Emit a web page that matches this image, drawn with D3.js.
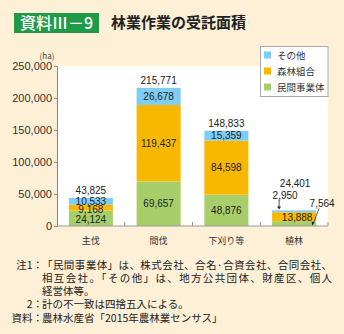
<!DOCTYPE html>
<html><head><meta charset="utf-8">
<script src="https://cdn.jsdelivr.net/npm/d3@7"></script>
<style>
html,body{margin:0;padding:0;background:#fdf0d6;}
svg{display:block;font-family:"Noto Sans CJK JP","Noto Sans",sans-serif;}
</style></head>
<body>
<svg id="c" width="344" height="334"></svg>
<script>
const categories = ["主伐", "間伐", "下刈り等", "植林"];
const seriesNames = ["民間事業体", "森林組合", "その他"];
const privateVals = [24124, 69657, 48876, 7564];
const coopVals = [9168, 119437, 84598, 13888];
const otherVals = [10533, 26678, 15359, 2950];
const totals = [43825, 215771, 148833, 24401];
const yTicks = [0, 50000, 100000, 150000, 200000, 250000];
const colors = ["#a6cf6a", "#f9b800", "#7fcdf2"];
const notes = [
  ["注1：", "「民間事業体」は、株式会社、合名·合資会社、合同会社、"],
  ["", "相互会社。「その他」は、地方公共団体、財産区、個人"],
  ["", "経営体等。"],
  ["2：", "計の不一致は四捨五入による。"],
  ["資料：", "農林水産省「2015年農林業センサス」"]
];

(function () {
const svg = d3.select("#c");
const fmt = d3.format(",");

// Title
svg.append("rect").attr("x", 14).attr("y", 13).attr("width", 85).attr("height", 20).attr("fill", "#1f9a49");
svg.append("text").attr("x", 56.5).attr("y", 28.5).attr("text-anchor", "middle")
  .attr("fill", "#fff").attr("font-size", 16).attr("font-weight", 500).text("資料Ⅲ－9");
svg.append("text").attr("x", 111).attr("y", 28).attr("fill", "#222")
  .attr("font-size", 15).attr("font-weight", 700).text("林業作業の受託面積");

const pL = 57, pR = 328, pT = 66, pB = 226;
svg.append("rect").attr("x", pL).attr("y", pT).attr("width", pR - pL).attr("height", pB - pT).attr("fill", "#fff");

const x = d3.scaleBand().domain(categories).range([pL, pR]).paddingInner(0.35).paddingOuter(0.175);
const y = d3.scaleLinear().domain([0, 250000]).range([pB, pT]);

const stackData = categories.map((c, i) => ({cat: c, "民間事業体": privateVals[i], "森林組合": coopVals[i], "その他": otherVals[i]}));
const stack = d3.stack().keys(seriesNames)(stackData);

const g = svg.append("g");
stack.forEach((s, si) => {
  g.selectAll(null).data(s).enter().append("rect")
    .attr("x", d => x(d.data.cat)).attr("width", x.bandwidth())
    .attr("y", d => y(d[1])).attr("height", d => y(d[0]) - y(d[1]))
    .attr("fill", colors[si]);
});

// axes
const yAxis = svg.append("g").attr("transform", `translate(${pL},0)`)
  .call(d3.axisLeft(y).tickValues(yTicks).tickFormat(fmt).tickSize(3).tickPadding(2));
yAxis.select(".domain").attr("stroke", "#888");
yAxis.selectAll(".tick line").attr("stroke", "#888");
yAxis.selectAll("text").attr("font-size", 11).attr("fill", "#333").attr("font-family", "Liberation Sans, Arial, sans-serif");

svg.append("line").attr("x1", pL).attr("x2", pR).attr("y1", pB).attr("y2", pB).attr("stroke", "#999").attr("stroke-width", 1.2);
const step = x.step();
categories.forEach(c => {
  const b = x(c) + x.bandwidth() + x.paddingInner() * step / 2;
  svg.append("line").attr("x1", b).attr("x2", b).attr("y1", pB).attr("y2", pB - 4).attr("stroke", "#999");
});
categories.forEach(c => {
  svg.append("text").attr("x", x(c) + x.bandwidth() / 2).attr("y", 244).attr("text-anchor", "middle")
    .attr("font-size", 9).attr("fill", "#333").text(c);
});
svg.append("text").attr("x", 47).attr("y", 58.5).attr("text-anchor", "middle").attr("font-size", 8).attr("fill", "#444").text("(ha)");

// value labels
const lbl = (xx, yy, t, anchor) => svg.append("text").attr("x", xx).attr("y", yy).attr("text-anchor", anchor || "middle")
  .attr("dominant-baseline", "central").attr("font-size", 10).attr("fill", "#222")
  .attr("font-family", "Liberation Sans, Arial, sans-serif").text(t);

categories.forEach((c, i) => {
  const cx = x(c) + x.bandwidth() / 2;
  if (i < 3) {
    lbl(cx, y(totals[i]) - 7, fmt(totals[i]));
    stack.forEach((s, si) => {
      const d = s[i];
      let cy = (y(d[0]) + y(d[1])) / 2;
      if (i === 0 && si === 0) cy += 1.5;
      if (i === 0 && si === 1) cy += 2;
      lbl(cx, cy, fmt(d.data[seriesNames[si]]));
    });
  } else {
    lbl(cx + 1, y(totals[i]) - 27, fmt(totals[i]));
    const dC = stack[1][i];
    lbl(cx + 3, (y(dC[0]) + y(dC[1])) / 2 + 1, fmt(coopVals[i]));
    lbl(cx - 9, y(totals[i]) - 15, fmt(otherVals[i]));
    lbl(cx + 28, y(totals[i]) - 7, fmt(privateVals[i]));
  }
});
// 植林 arrows
{
  const c = categories[3];
  const bx = x(c), bw = x.bandwidth();
  const ax = bx + 7;
  const ty = y(totals[3]);
  svg.append("line").attr("x1", ax).attr("x2", ax).attr("y1", ty - 11).attr("y2", ty - 3).attr("stroke", "#222").attr("stroke-width", 0.8);
  svg.append("path").attr("d", `M${ax - 2},${ty - 4}L${ax + 2},${ty - 4}L${ax},${ty - 1}Z`).attr("fill", "#222");
  const gy = (y(0) + y(privateVals[3])) / 2;
  const ex = bx + bw - 3;
  svg.append("line").attr("x1", ex + 6).attr("x2", ex).attr("y1", ty - 2).attr("y2", gy).attr("stroke", "#333").attr("stroke-width", 0.8);
  svg.append("path").attr("d", `M${ex - 1.5},${gy - 2}L${ex + 1.5},${gy - 1}L${ex - 1},${gy + 2}Z`).attr("fill", "#222");
}

// legend
const lg = svg.append("g");
lg.append("rect").attr("x", 260.5).attr("y", 46.5).attr("width", 67.5).attr("height", 50).attr("fill", "#fff").attr("stroke", "#aaa");
[2, 1, 0].forEach((si, k) => {
  const ly = 55 + k * 16;
  lg.append("rect").attr("x", 264).attr("y", ly - 3.5).attr("width", 7).attr("height", 7).attr("fill", colors[si]);
  lg.append("text").attr("x", 277).attr("y", ly).attr("dominant-baseline", "central").attr("font-size", 9.5).attr("fill", "#333").text(seriesNames[si]);
});

// notes
const noteY = [264, 277, 290, 303, 317];
notes.forEach((n, i) => {
  if (n[0]) {
    svg.append("text").attr("x", 43).attr("y", noteY[i]).attr("dominant-baseline", "central").attr("text-anchor", "end")
      .attr("font-size", 10.5).attr("fill", "#222").text(n[0]);
  }
  const t = svg.append("text").attr("x", 42).attr("y", noteY[i]).attr("dominant-baseline", "central")
    .attr("font-size", 10.5).attr("fill", "#222").text(n[1]);
  if (i < 2) t.attr("textLength", 290).attr("lengthAdjust", "spacing");
});
})();
</script>
</body></html>
